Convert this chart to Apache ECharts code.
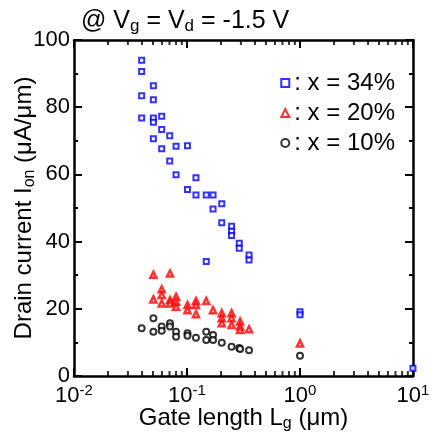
<!DOCTYPE html>
<html>
<head>
<meta charset="utf-8">
<title>Drain current vs gate length</title>
<script src="https://cdn.jsdelivr.net/npm/echarts@6.0.0/dist/echarts.min.js"></script>
<style type="text/css">
html, body { margin: 0; padding: 0; background: #fff; }
#chart { width: 432px; height: 433px; }
</style>
</head>
<body>
<div id="chart"></div>
<script type="text/javascript">
// gate length (um), drain current (uA/um)
var x34 = [
	[0.0397, 94.0], [0.0397, 90.6], [0.0397, 83.4], [0.0397, 76.8],
	[0.0504, 86.4], [0.0504, 82.2], [0.0504, 76.8], [0.0504, 75.5], [0.0504, 70.6],
	[0.0597, 77.3], [0.0597, 73.4], [0.0597, 67.6],
	[0.0703, 71.5], [0.0703, 64.0],
	[0.080, 68.4], [0.080, 59.9],
	[0.101, 68.5], [0.101, 55.5],
	[0.120, 59.0], [0.120, 53.9],
	[0.148, 53.9], [0.148, 34.1],
	[0.170, 53.9], [0.170, 49.7],
	[0.203, 51.3], [0.203, 45.6],
	[0.248, 44.6], [0.248, 43.1], [0.248, 41.8],
	[0.290, 39.5], [0.290, 38.0],
	[0.354, 36.0], [0.354, 34.5],
	[1.0, 19.1], [1.0, 18.2],
	[10, 2.3]
];
var x20 = [
	[0.0504, 30.1], [0.0504, 22.8],
	[0.0597, 25.8], [0.0597, 24.1], [0.0597, 21.6],
	[0.0707, 30.5], [0.0707, 22.6], [0.0707, 21.6],
	[0.080, 23.6], [0.080, 22.1], [0.080, 20.6],
	[0.101, 21.1], [0.101, 19.6],
	[0.120, 22.3], [0.120, 21.1], [0.120, 18.4],
	[0.148, 22.3],
	[0.170, 19.6],
	[0.203, 18.7], [0.203, 17.2], [0.203, 15.7],
	[0.248, 18.7], [0.248, 17.2], [0.248, 15.2],
	[0.295, 16.2], [0.295, 14.7], [0.295, 13.7],
	[0.354, 13.9],
	[1.0, 9.7]
];
var x10 = [
	[0.0397, 14.2],
	[0.0504, 17.2], [0.0504, 13.2],
	[0.0597, 14.7], [0.0597, 13.5],
	[0.0707, 15.7], [0.0707, 14.7],
	[0.080, 13.2], [0.080, 11.7],
	[0.101, 12.7], [0.101, 12.0],
	[0.120, 11.4],
	[0.148, 13.2], [0.148, 10.7],
	[0.170, 12.2], [0.170, 10.7],
	[0.203, 9.9],
	[0.248, 8.7],
	[0.290, 8.3], [0.295, 8.0],
	[0.354, 7.7],
	[1.0, 6.0]
];
var seriesNames = ['x = 34%', 'x = 20%', 'x = 10%'];
// minor ticks of the log axis (2..9 in each decade)
var minorTicks = [
	0.02, 0.03, 0.04, 0.05, 0.06, 0.07, 0.08, 0.09,
	0.2, 0.3, 0.4, 0.5, 0.6, 0.7, 0.8, 0.9,
	2, 3, 4, 5, 6, 7, 8, 9
];

var FONT = 'Liberation Sans, Arial, sans-serif';
var richText = {
	t: { fontSize: 24, fontFamily: FONT, fontWeight: 'normal', color: '#000', lineHeight: 27 },
	s: { fontSize: 16, fontFamily: FONT, fontWeight: 'normal', color: '#000', lineHeight: 16, verticalAlign: 'bottom' }
};
var titleRich = {
	t: { fontSize: 25, fontFamily: FONT, fontWeight: 'normal', color: '#000', lineHeight: 28 },
	s: { fontSize: 17, fontFamily: FONT, fontWeight: 'normal', color: '#000', lineHeight: 17, verticalAlign: 'bottom' }
};

function valAxis(pos) {
	return {
		type: 'value',
		position: pos,
		min: 0,
		max: 100,
		interval: 20,
		axisLine: { show: true, onZero: false, lineStyle: { color: '#000', width: 2.5 } },
		axisTick: { show: true, inside: true, length: 8, lineStyle: { color: '#000', width: 2 } },
		minorTick: { show: true, splitNumber: 2, length: 4, lineStyle: { color: '#000', width: 2 } },
		axisLabel: { show: pos == 'left', margin: 4, fontSize: 22, fontFamily: FONT, color: '#000' },
		splitLine: { show: false }
	};
}

function logAxis(pos) {
	return {
		type: 'log',
		position: pos,
		min: 0.01,
		max: 10,
		axisLine: { show: true, onZero: false, lineStyle: { color: '#000', width: 2.5 } },
		axisTick: { show: true, inside: true, length: 8, lineStyle: { color: '#000', width: 2 } },
		axisLabel: {
			show: pos == 'bottom',
			margin: 7,
			formatter: function(v) {
				return '{t|10}{u|' + Math.round(Math.log10(v)) + '}';
			},
			rich: {
				t: { fontSize: 22, fontFamily: FONT, color: '#000', lineHeight: 26 },
				u: { fontSize: 15, fontFamily: FONT, color: '#000', lineHeight: 15, verticalAlign: 'top' }
			}
		},
		splitLine: { show: false }
	};
}

// short minor tick marks drawn as thin rects on the bottom / top edge
function minorTickSeries(yVal, offset) {
	return {
		type: 'scatter',
		silent: true,
		symbol: 'rect',
		symbolSize: [2, 5],
		symbolOffset: [0, offset],
		itemStyle: { color: '#000' },
		data: minorTicks.map(function(v) { return [v, yVal]; })
	};
}

var xBottom = logAxis('bottom');
xBottom.name = '{t|Gate length L}{s|g}{t| (μm)}';
xBottom.nameLocation = 'middle';
xBottom.nameGap = 29;
xBottom.nameMoveOverlap = false;
xBottom.nameTextStyle = { rich: richText, verticalAlign: 'top' };

var yLeft = valAxis('left');
yLeft.name = '{t|Drain current I}{s|on}{t| (μA/μm)}';
yLeft.nameLocation = 'middle';
yLeft.nameGap = 36;
yLeft.nameMoveOverlap = false;
yLeft.nameTextStyle = { rich: richText };

var option = {
	animation: false,
	backgroundColor: '#fff',
	title: {
		text: '{t|@ V}{s|g}{t| = V}{s|d}{t| = -1.5 V}',
		left: 76,
		top: 2,
		textStyle: { rich: titleRich }
	},
	legend: {
		orient: 'vertical',
		right: 32,
		top: 66,
		itemGap: 6,
		itemWidth: 8,
		itemHeight: 8,
		data: seriesNames,
		formatter: function(name) { return ': ' + name; },
		textStyle: { fontSize: 24, fontFamily: FONT, color: '#000' }
	},
	grid: { left: 74, right: 19, top: 40, bottom: 57, outerBoundsMode: 'none' },
	xAxis: [xBottom, logAxis('top')],
	yAxis: [yLeft, valAxis('right')],
	series: [
		{
			name: seriesNames[0],
			type: 'scatter',
			symbol: 'rect',
			symbolSize: 5,
			data: x34,
			itemStyle: { color: '#fff', borderColor: '#0000ff', borderWidth: 2 }
		},
		{
			name: seriesNames[1],
			type: 'scatter',
			symbol: 'triangle',
			symbolSize: 6,
			data: x20,
			itemStyle: { color: '#fff', borderColor: '#ff0000', borderWidth: 2.5 }
		},
		{
			name: seriesNames[2],
			type: 'scatter',
			symbol: 'circle',
			symbolSize: 6,
			data: x10,
			itemStyle: { color: '#fff', borderColor: '#000', borderWidth: 2 }
		},
		minorTickSeries(0, -2.5),
		minorTickSeries(100, 2.5)
	]
};

var chart = echarts.init(document.getElementById('chart'));
chart.setOption(option);
</script>
</body>
</html>
